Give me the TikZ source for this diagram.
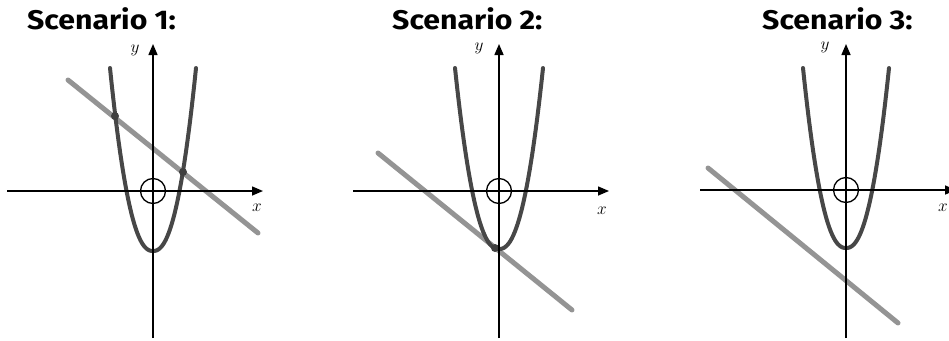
\documentclass[tikz,border=0pt]{standalone}
\usepackage{fontspec}
\newfontfamily\titlefont{Fira Sans}
\usetikzlibrary{arrows.meta}
\begin{document}
\begin{tikzpicture}[x=1pt,y=-1pt,
  axisline/.style={line width=1.5pt,-{Triangle[length=11pt,width=9pt]}},
  parab/.style={line width=4pt,black!72,line cap=round},
  lineg/.style={line width=5pt,black!42,line cap=round},
  originc/.style={line width=1.3pt,black},
  dotp/.style={fill=black!75},
  title/.style={font=\titlefont\bfseries\fontsize{27}{30}\selectfont,anchor=base west,inner sep=0pt},
  lab/.style={font=\fontsize{16}{18}\selectfont,inner sep=0pt}]
\useasboundingbox (0,0) rectangle (949,340);

\node[title] (t1) at (27,29) {\scalebox{1.12}[1]{Scenario 1:}};
\node[title] (t2) at (392,29) {\scalebox{1.12}[1]{Scenario 2:}};
\node[title] (t3) at (762,29) {\scalebox{1.12}[1]{Scenario 3:}};

% Scenario 1
\begin{scope}[shift={(153,0)}]
  \draw[lineg] (-85,80) -- (105,233);
  \draw[parab] plot[domain=-43:43,samples=60] ({\x},{251-183*pow(abs(\x)/43,2.3)});
  \fill[dotp] (-38,116) circle[radius=4pt];
  \fill[dotp] (30,172) circle[radius=4pt];
  \draw[axisline] (-146,191) -- (110,191);
  \draw[axisline] (0,338) -- (0,44);
  \draw[originc] (0,191) circle[radius=12.5pt];
  \node[lab] (y1) at (-18,50) {$y$};
  \node[lab] (x1) at (104,208) {$x$};
\end{scope}

% Scenario 2
\begin{scope}[shift={(499,0)}]
  \draw[lineg] (-121,153) -- (73,310);
  \draw[parab] plot[domain=-44:44,samples=60] ({\x},{249-181*pow(abs(\x)/44,2.3)});
  \fill[dotp] (-4,248) circle[radius=4pt];
  \draw[axisline] (-146,191) -- (110,191);
  \draw[axisline] (0,338) -- (0,44);
  \draw[originc] (0,191) circle[radius=12.5pt];
  \node[lab] (y2) at (-20,48) {$y$};
  \node[lab] (x2) at (103,211) {$x$};
\end{scope}

% Scenario 3
\begin{scope}[shift={(846,0)}]
  \draw[lineg] (-138,168) -- (52,323);
  \draw[parab] plot[domain=-43:43,samples=60] ({\x},{248-180*pow(abs(\x)/43,2.3)});
  \draw[axisline] (-146,190) -- (110,190);
  \draw[axisline] (0,338) -- (0,44);
  \draw[originc] (0,190) circle[radius=12.5pt];
  \node[lab] (y3) at (-21,47) {$y$};
  \node[lab] (x3) at (97,208) {$x$};
\end{scope}
\end{tikzpicture}
\end{document}
